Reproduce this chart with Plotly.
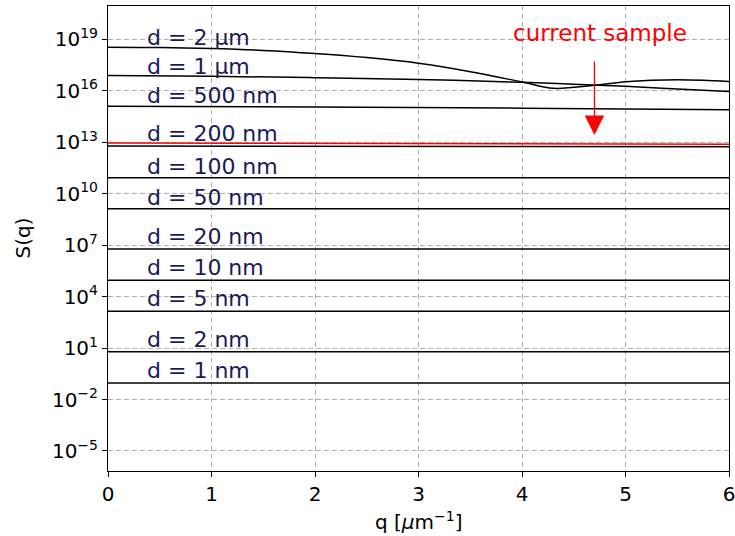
import plotly.graph_objects as go

# ---- data ----
flat_labels = ["d = 1 nm", "d = 2 nm", "d = 5 nm", "d = 10 nm", "d = 20 nm",
               "d = 50 nm", "d = 100 nm", "d = 200 nm"]
q_flat = [0, 6]
flat_S_q0 = [0.093, 6.0, 1.41e3, 9.1e4, 6.0e6, 1.35e9, 8.7e10, 6.0e12]
flat_S_q6 = [0.093, 6.0, 1.41e3, 9.1e4, 6.0e6, 1.35e9, 8.7e10, 5.6e12]

q_500nm = [0, 2, 4, 6]
S_500nm = [1.26e15, 1.15e15, 9.8e14, 7.8e14]

q_1um = [0, 1, 2, 3, 4, 4.5, 5, 5.5, 6]
S_1um = [7.76e16, 7.08e16, 5.89e16, 4.68e16, 3.16e16, 2.45e16, 1.86e16, 1.29e16, 9.1e15]

q_2um = [0, 0.5, 1, 1.5, 2, 2.5, 3, 3.5, 4, 4.3, 4.5, 4.75, 5, 5.25, 5.5, 5.75, 6]
S_2um = [3.55e18, 3.39e18, 2.95e18, 2.29e18, 1.51e18, 8.7e17, 4.07e17, 1.32e17,
         3.31e16, 1.41e16, 1.62e16, 2.29e16, 3.39e16, 4.17e16, 4.47e16, 4.17e16, 3.55e16]

q_sample = [0, 6]
S_sample = [9.2e12, 7.7e12]

curve_labels = ["d = 500 nm", "d = 1 µm", "d = 2 µm"]

y_tick_exp = [-5, -2, 1, 4, 7, 10, 13, 16, 19]
x_ticks = [0, 1, 2, 3, 4, 5, 6]

# label placement (log10 of y, layout only)
label_x = 0.36
flat_label_pos = [-0.31, 1.48, 3.87, 5.69, 7.50, 9.78, 11.58, 13.49]
curve_label_pos = [15.72, 17.41, 19.09]

LINE = dict(color="black", width=1.5)
LABEL_COLOR = "#1b1b57"
LABEL_FONT = dict(family="DejaVu Sans", size=22, color=LABEL_COLOR)

fig = go.Figure()

for i in range(len(flat_labels)):
    fig.add_trace(go.Scatter(x=q_flat, y=[flat_S_q0[i], flat_S_q6[i]], mode="lines",
                             line=LINE, showlegend=False, hoverinfo="skip"))

for qq, ss in [(q_500nm, S_500nm), (q_1um, S_1um), (q_2um, S_2um)]:
    fig.add_trace(go.Scatter(x=qq, y=ss, mode="lines",
                             line=dict(color="black", width=1.5, shape="spline", smoothing=1.0),
                             showlegend=False, hoverinfo="skip"))

fig.add_trace(go.Scatter(x=q_sample, y=S_sample, mode="lines",
                         line=dict(color="red", width=1.5), showlegend=False, hoverinfo="skip"))

annotations = []
for lab, pos in zip(flat_labels + curve_labels, flat_label_pos + curve_label_pos):
    annotations.append(dict(x=label_x, y=pos, xref="x", yref="y", text=lab, showarrow=False,
                            xanchor="left", yanchor="middle", font=LABEL_FONT))

annotations.append(dict(x=4.75, y=19.38, xref="x", yref="y", text="current sample",
                        showarrow=False, xanchor="center", yanchor="middle",
                        font=dict(family="DejaVu Sans", size=23, color="red")))
annotations.append(dict(x=4.7, y=13.43, xref="x", yref="y", ax=4.7, ay=17.8,
                        axref="x", ayref="y", text="", showarrow=True, arrowhead=2,
                        arrowsize=3.0, arrowwidth=1.3, arrowcolor="red"))

annotations.append(dict(x=(22 - 108) / 621, y=0.5, xref="paper", yref="paper", text="S(q)",
                        showarrow=False, textangle=-90, xanchor="center", yanchor="middle",
                        font=dict(family="DejaVu Sans", size=20, color="black")))
annotations.append(dict(x=0.501, y=(471 - 521) / 465, xref="paper", yref="paper",
                        text="q [<i>μ</i>m<sup>−1</sup>]", showarrow=False,
                        xanchor="center", yanchor="middle",
                        font=dict(family="DejaVu Sans", size=20, color="black")))

fig.update_layout(
    width=735, height=536,
    margin=dict(l=108, r=6, t=6, b=65, autoexpand=False),
    paper_bgcolor="white", plot_bgcolor="white",
    annotations=annotations,
    showlegend=False,
)

fig.update_xaxes(range=[0, 6], tickvals=x_ticks, ticktext=[str(t) for t in x_ticks],
                 showline=True, linecolor="black", linewidth=1, mirror=True,
                 ticks="outside", ticklen=5, tickcolor="black", ticklabeloverflow="allow",
                 showgrid=True, gridcolor="#b0b0b0", gridwidth=1, griddash="5px,3px",
                 zeroline=False, tickfont=dict(family="DejaVu Sans", size=20, color="black"))

fig.update_yaxes(type="log", range=[-6.17, 20.95],
                 tickvals=[10.0 ** e for e in y_tick_exp],
                 ticktext=["10<sup>%s</sup>" % (str(e).replace("-", "−")) for e in y_tick_exp],
                 showline=True, linecolor="black", linewidth=1, mirror=True,
                 ticks="outside", ticklen=5, tickcolor="black",
                 showgrid=True, gridcolor="#b0b0b0", gridwidth=1, griddash="5px,3px",
                 zeroline=False, tickfont=dict(family="DejaVu Sans", size=20, color="black"))

fig.write_html("out.html", config={"displayModeBar": False},
               post_script="document.body.style.margin='0px';")
